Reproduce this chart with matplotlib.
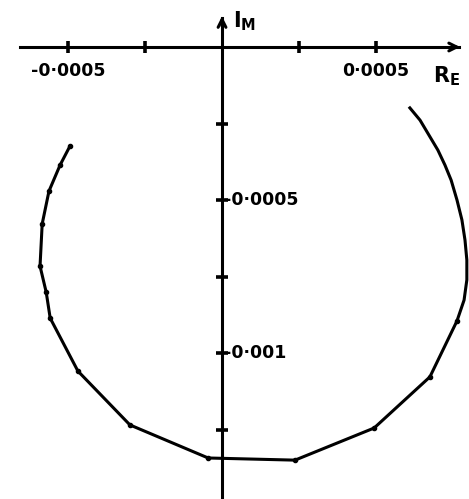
import numpy as np
import matplotlib
matplotlib.use('Agg')
import matplotlib.pyplot as plt
from matplotlib.ticker import FixedLocator, FixedFormatter

# locus points, real / imaginary parts, traced from the upper left end round to the upper right end
re_pts = [-0.000494, -0.000526, -0.000562, -0.000584, -0.000591, -0.000571, -0.000558,
          -0.000468, -0.000299, -0.000045, 0.000237, 0.000494, 0.000675, 0.000763,
          0.000786, 0.000795, 0.000795, 0.000789, 0.000779, 0.000763, 0.000744,
          0.000724, 0.000701, 0.000672, 0.000643, 0.000610]
im_pts = [-0.000324, -0.000386, -0.000471, -0.000578, -0.000716, -0.000801, -0.000886,
          -0.001059, -0.001235, -0.001343, -0.001350, -0.001245, -0.001078, -0.000895,
          -0.000827, -0.000761, -0.000696, -0.000631, -0.000565, -0.000500, -0.000435,
          -0.000386, -0.000337, -0.000288, -0.000239, -0.000199]
n_marked = 14  # the measured points carry dots, the upper right arc does not

re_ticks = [-0.0005, -0.00025, 0.00025, 0.0005]
re_labels = ['-0·0005', '', '', '0·0005']
im_ticks = [-0.00025, -0.0005, -0.00075, -0.001, -0.00125]
im_labels = {-0.0005: '-0·0005', -0.001: '-0·001'}

fig = plt.figure(figsize=(4.69, 4.99), dpi=100)
ax = fig.add_axes([0, 0, 1, 1])
ax.set_xlim(-0.000721, 0.000802)
ax.set_ylim(-0.001477, 0.0001536)

ax.plot(re_pts, im_pts, color='black', lw=2.2, solid_joinstyle='round')
ax.plot(re_pts[:n_marked], im_pts[:n_marked], ls='none', marker='o', ms=3.0, color='black')

# axes crossing at the origin
for side in ('top', 'right'):
    ax.spines[side].set_visible(False)
ax.spines['bottom'].set_position(('data', 0))
ax.spines['left'].set_position(('data', 0))
ax.spines['bottom'].set_bounds(-0.000656, 0.000770)
ax.spines['left'].set_bounds(-0.00147, 0.000095)
for side in ('bottom', 'left'):
    ax.spines[side].set_linewidth(2.2)

ax.annotate('', xy=(0.000782, 0), xytext=(0.000740, 0),
            arrowprops=dict(arrowstyle='->', lw=2.2, color='black', mutation_scale=14))
ax.annotate('', xy=(0, 0.000110), xytext=(0, 0.000060),
            arrowprops=dict(arrowstyle='->', lw=2.2, color='black', mutation_scale=14))

ax.xaxis.set_major_locator(FixedLocator(re_ticks))
ax.xaxis.set_major_formatter(FixedFormatter(re_labels))
ax.yaxis.set_major_locator(FixedLocator(im_ticks))
ax.yaxis.set_major_formatter(FixedFormatter([''] * len(im_ticks)))
ax.tick_params(direction='inout', length=8, width=2.6, pad=7, labelsize=12.5)
for lab in ax.get_xticklabels():
    lab.set_fontweight('bold')

for v, lab in im_labels.items():
    ax.text(0.000005, v, lab, ha='left', va='center', fontsize=12.5, fontweight='bold')

ax.text(0.000035, 0.000085, r'$\mathbf{I_M}$', ha='left', va='center', fontsize=15)
ax.text(0.000685, -0.000095, r'$\mathbf{R_E}$', ha='left', va='center', fontsize=15)

fig.savefig('out.png', dpi=100, facecolor='white')
